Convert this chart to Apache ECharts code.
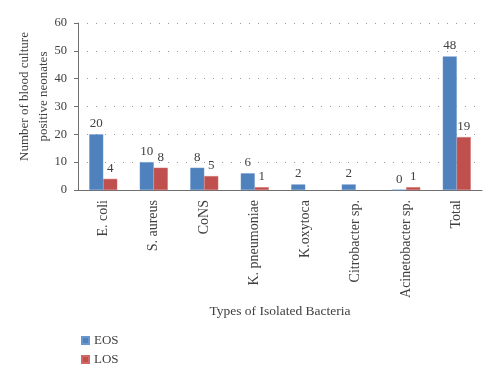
<!DOCTYPE html>
<html><head><meta charset="utf-8">
<script src="https://cdn.jsdelivr.net/npm/echarts@6/dist/echarts.min.js"></script>
<style>html,body{margin:0;padding:0;background:#fff}#c{width:500px;height:380px}</style>
</head><body><div id="c"></div>
<script>
const categories = ['E. coli','S. aureus','CoNS','K. pneumoniae','K.oxytoca','Citrobacter sp.','Acinetobacter sp.','Total'];
const eosValues = [20,10,8,6,2,2,0,48];
const losValues = [4,8,5,1,null,null,1,19];
const yTicks = {min:0,max:60,interval:10};
const font = 'Liberation Serif';
const txt = '#404040';
const axisCol = '#6f6f6f';
const chart = echarts.init(document.getElementById('c'), null, {renderer:'canvas'});
chart.setOption({
  animation:false,
  textStyle:{fontFamily:font,color:txt},
  grid:{left:78,right:18,top:23,bottom:190,containLabel:false,outerBoundsMode:'none'},
  legend:{orient:'vertical',left:76,top:329,itemWidth:7,itemHeight:7,itemGap:6,icon:'rect',
    textStyle:{fontFamily:font,fontSize:13,color:txt},data:['EOS','LOS']},
  xAxis:{type:'category',data:categories,
    name:'Types of Isolated Bacteria',nameLocation:'middle',nameGap:114,nameMoveOverlap:false,
    nameTextStyle:{fontFamily:font,fontSize:13.5,color:txt},
    axisLine:{lineStyle:{color:axisCol}},
    axisTick:{length:5,lineStyle:{color:axisCol}},
    axisLabel:{rotate:90,fontFamily:font,fontSize:14,color:txt,margin:10,interval:0}},
  yAxis:{type:'value',min:yTicks.min,max:yTicks.max,interval:yTicks.interval,
    name:'Number of blood culture\npositive neonates',nameLocation:'middle',nameRotate:90,nameGap:25,nameMoveOverlap:false,
    nameTextStyle:{fontFamily:font,fontSize:13,color:txt,lineHeight:19,padding:[0,0,0,20]},
    axisLine:{show:true,lineStyle:{color:axisCol}},
    axisTick:{show:true,length:4,lineStyle:{color:axisCol}},
    axisLabel:{fontFamily:font,fontSize:12.5,color:txt,margin:11},
    splitLine:{lineStyle:{type:[1,8],color:'#9a9a9a'}}},
  series:[
    {name:'EOS',type:'bar',data:eosValues,barWidth:14,barGap:'0%',
     itemStyle:{color:'#4F81BD',borderColor:'#6a97cf',borderWidth:0.5},
     label:{show:true,position:'top',fontFamily:font,fontSize:13,color:txt,distance:4}},
    {name:'LOS',type:'bar',data:losValues,barWidth:14,barGap:'0%',
     itemStyle:{color:'#C0504D',borderColor:'#d06a67',borderWidth:0.5},
     label:{show:true,position:'top',fontFamily:font,fontSize:13,color:txt,distance:4}}
  ]
});
</script></body></html>
